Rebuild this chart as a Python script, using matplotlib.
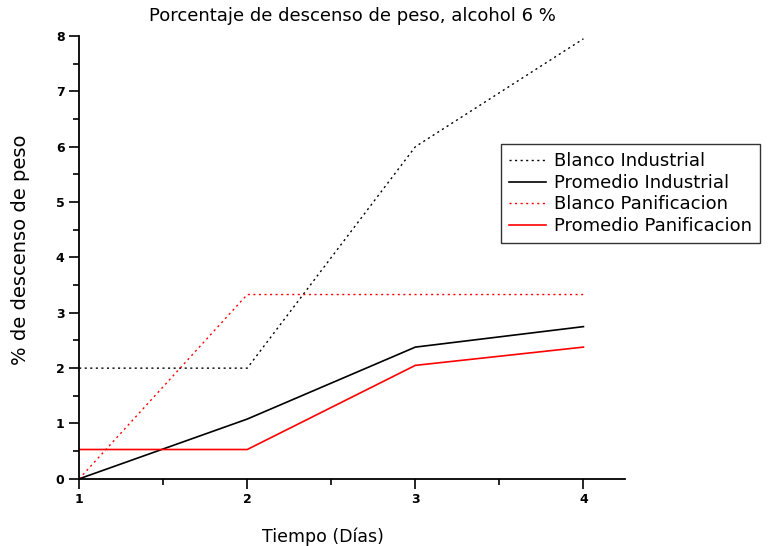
import matplotlib
matplotlib.use("Agg")
import matplotlib.pyplot as plt
from matplotlib.ticker import MultipleLocator

# data
dias = [1, 2, 3, 4]
blanco_industrial = [2.0, 2.0, 6.0, 7.95]
promedio_industrial = [0.0, 1.08, 2.38, 2.75]
blanco_panificacion = [0.0, 3.33, 3.33, 3.33]
promedio_panificacion = [0.53, 0.53, 2.05, 2.38]

labels = ['Blanco Industrial', 'Promedio Industrial',
          'Blanco Panificacion', 'Promedio Panificacion']

fig = plt.figure(figsize=(7.76, 5.46), dpi=100)
ax = fig.add_axes([0.102, 0.123, 0.704, 0.811])

ax.plot(dias, blanco_industrial, color='k', linestyle=(0, (1.5, 2.5)), linewidth=1, label=labels[0])
ax.plot(dias, promedio_industrial, color='k', linestyle='-', linewidth=1.2, label=labels[1])
ax.plot(dias, blanco_panificacion, color='r', linestyle=(0, (1.5, 2.5)), linewidth=1, label=labels[2])
ax.plot(dias, promedio_panificacion, color='r', linestyle='-', linewidth=1.2, label=labels[3])

ax.set_xlim(1, 4.25)
ax.set_ylim(0, 8)
ax.spines['top'].set_visible(False)
ax.spines['right'].set_visible(False)
ax.spines['left'].set_linewidth(1.3)
ax.spines['bottom'].set_linewidth(1.3)

ax.xaxis.set_major_locator(MultipleLocator(1))
ax.xaxis.set_minor_locator(MultipleLocator(0.5))
ax.yaxis.set_major_locator(MultipleLocator(1))
ax.yaxis.set_minor_locator(MultipleLocator(0.5))
ax.tick_params(which='major', direction='out', length=7, width=1.2, labelsize=9)
ax.tick_params(which='minor', direction='out', length=4.5, width=1.2)
for lab in ax.get_xticklabels() + ax.get_yticklabels():
    lab.set_fontweight('bold')

ax.set_title('Porcentaje de descenso de peso, alcohol 6 %', fontsize=13, pad=11)
ax.set_xlabel('Tiempo (Días)', fontsize=12.5)
ax.xaxis.set_label_coords(0.447, -0.11)
ax.set_ylabel('% de descenso de peso', fontsize=14)
ax.yaxis.set_label_coords(-0.09, 0.517)

leg = fig.legend(loc='upper left', bbox_to_anchor=(0.645, 0.736), fontsize=13,
                 frameon=True, fancybox=False, handlelength=2.05,
                 borderpad=0.45, labelspacing=0.2, handletextpad=0.45, borderaxespad=0)
leg.get_frame().set_edgecolor('k')
leg.get_frame().set_linewidth(1.0)

fig.savefig('out.png', dpi=100)
